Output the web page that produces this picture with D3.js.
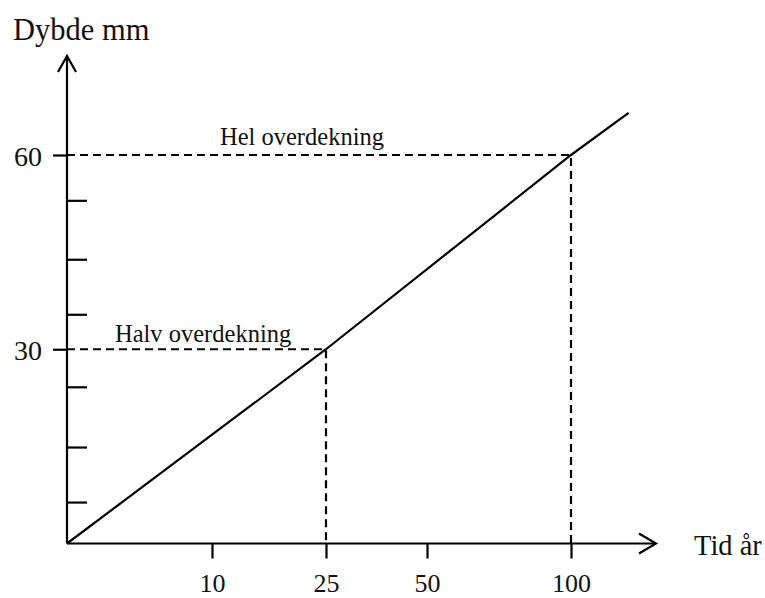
<!DOCTYPE html>
<html>
<head>
<meta charset="utf-8">
<script src="https://cdn.jsdelivr.net/npm/d3@7"></script>
<style>
	body { margin: 0; background: #fff; }
	svg { display: block; }
	text { font-family: "Liberation Serif", "Times New Roman", serif; fill: #111; }
	.axis path { display: none; }
	.axis line { stroke: #000; stroke-width: 2.2; }
</style>
</head>
<body>
<svg class="chart" width="765" height="598"></svg>
<script>
(function() {

//DATA

	var timeTicks = [10, 25, 50, 100];
	var depthTicks = [30, 60];
	var depthMinorTicks = [6.4, 14.9, 24.2, 35.4, 43.9, 53.0];

	var lineTime = [0, 25, 100, 120];
	var lineDepth = [0, 30, 60, 66.5];

	var marks = [
		{ time: 25, depth: 30, label: "Halv overdekning" },
		{ time: 100, depth: 60, label: "Hel overdekning" }
	];

	var xTitle = "Tid år";
	var yTitle = "Dybde mm";

//SETUP

	var svg = d3.select('.chart');

	// the time axis is not even: each tick has its own spot
	var x = d3.scaleLinear()
		.domain([0, 10, 25, 50, 100])
		.range([67, 212, 326, 427, 571]);

	var y = d3.scaleLinear()
		.domain([0, 60])
		.range([543.5, 155]);

	var xEnd = 656;
	var yEnd = 56;
	var sw = 2.2;

	// axes lines with open arrow heads
	var axes = svg.append('g');
	axes.append('line')
		.attr('x1', x(0)).attr('y1', y(0))
		.attr('x2', xEnd).attr('y2', y(0))
		.attr('stroke', '#000').attr('stroke-width', sw);
	axes.append('path')
		.attr('d', 'M' + (xEnd - 17) + ',' + (y(0) - 10) + 'L' + xEnd + ',' + y(0) + 'L' + (xEnd - 17) + ',' + (y(0) + 10))
		.attr('fill', 'none').attr('stroke', '#000').attr('stroke-width', sw);
	axes.append('line')
		.attr('x1', x(0)).attr('y1', y(0))
		.attr('x2', x(0)).attr('y2', yEnd)
		.attr('stroke', '#000').attr('stroke-width', sw);
	axes.append('path')
		.attr('d', 'M' + (x(0) - 9) + ',' + (yEnd + 16) + 'L' + x(0) + ',' + yEnd + 'L' + (x(0) + 9) + ',' + (yEnd + 16))
		.attr('fill', 'none').attr('stroke', '#000').attr('stroke-width', sw);

	// ticks
	var xAxis = svg.append('g')
		.attr('class', 'axis axis--x')
		.attr('transform', 'translate(0,' + y(0) + ')')
		.call(d3.axisBottom(x).tickValues(timeTicks).tickSize(15).tickFormat(d3.format('d')));
	xAxis.selectAll('text')
		.attr('y', 48).attr('dy', 0)
		.style('font-size', '26px');

	var yAxis = svg.append('g')
		.attr('class', 'axis axis--y')
		.attr('transform', 'translate(' + x(0) + ',0)')
		.call(d3.axisLeft(y).tickValues(depthTicks).tickSize(14).tickPadding(11).tickFormat(d3.format('d')));
	yAxis.selectAll('text')
		.attr('dy', '0.36em')
		.style('font-size', '28px');

	svg.append('g')
		.attr('class', 'axis axis--minor')
		.attr('transform', 'translate(' + x(0) + ',0)')
		.call(d3.axisRight(y).tickValues(depthMinorTicks).tickSize(20).tickFormat(''));

	// dashed guides
	var guides = svg.append('g');
	marks.forEach(function(m) {
		guides.append('path')
			.attr('d', 'M' + x(0) + ',' + y(m.depth) + 'H' + x(m.time) + 'V' + y(0))
			.attr('fill', 'none')
			.attr('stroke', '#000')
			.attr('stroke-width', sw)
			.attr('stroke-dasharray', '8,5');
	});

	svg.append('text').attr('x', 115).attr('y', 342).style('font-size', '24.5px').text(marks[0].label);
	svg.append('text').attr('x', 220).attr('y', 145).style('font-size', '24.5px').text(marks[1].label);

	// the line
	var line = d3.line()
		.x(function(d) { return x(d[0]); })
		.y(function(d) { return y(d[1]); });

	svg.append('path')
		.datum(d3.zip(lineTime, lineDepth))
		.attr('d', line)
		.attr('fill', 'none')
		.attr('stroke', '#000')
		.attr('stroke-width', sw);

	// titles
	svg.append('text').attr('x', 13).attr('y', 40).style('font-size', '30.5px').text(yTitle);
	svg.append('text').attr('x', 694).attr('y', 555).style('font-size', '28.5px').text(xTitle);

})()
</script>
</body>
</html>
